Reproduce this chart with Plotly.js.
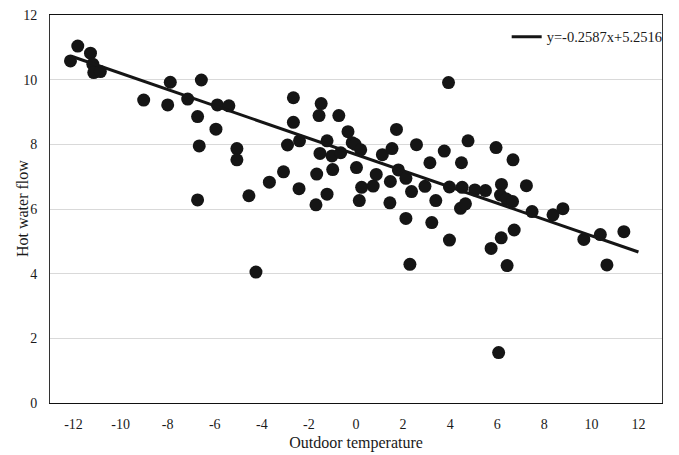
<!DOCTYPE html>
<html>
<head>
<meta charset="utf-8">
<script src="https://cdn.plot.ly/plotly-3.0.1.min.js"></script>
<style>html,body{margin:0;padding:0;background:#fff;}#chart{width:679px;height:455px;}</style>
</head>
<body>
<div id="chart"></div>
<script>
const temperature = [-12.13,-11.82,-11.28,-11.18,-11.14,-10.86,-9.02,-7.89,-8.00,-7.15,-6.57,-5.89,-5.40,-6.73,-5.95,-6.66,-5.06,-5.06,-6.73,-4.55,-4.25,-3.68,-3.08,-2.91,-2.66,-2.66,-2.40,-2.42,-1.48,-1.57,-0.73,-1.23,-1.53,-1.02,-0.65,-0.34,-0.16,-0.04,-0.99,-1.67,-1.23,-1.70,0.02,0.20,0.24,0.14,0.73,0.86,1.12,1.53,1.72,1.80,1.46,1.44,2.12,2.57,2.36,2.12,2.29,2.93,3.14,3.39,3.22,3.75,3.93,3.97,3.97,4.48,4.76,4.51,4.44,4.65,5.05,5.50,5.95,6.67,6.18,6.14,6.39,6.65,7.24,7.48,8.37,8.79,5.74,6.17,6.72,6.42,6.06,9.68,10.38,11.38,10.66];
const flow = [10.58,11.04,10.82,10.48,10.22,10.25,9.37,9.92,9.22,9.40,9.99,9.22,9.19,8.86,8.47,7.95,7.87,7.52,6.28,6.41,4.05,6.83,7.15,7.98,9.44,8.68,8.11,6.63,9.26,8.89,8.89,8.11,7.72,7.64,7.74,8.39,8.05,8.00,7.22,7.08,6.46,6.13,7.28,7.83,6.67,6.26,6.71,7.07,7.68,7.87,8.46,7.21,6.85,6.19,6.95,7.99,6.54,5.71,4.29,6.70,7.43,6.26,5.58,7.79,9.91,6.68,5.04,7.43,8.11,6.67,6.02,6.16,6.59,6.57,7.90,7.52,6.76,6.43,6.31,6.23,6.72,5.92,5.82,6.01,4.78,5.11,5.35,4.25,1.56,5.06,5.21,5.30,4.27];
const trendX = [-12, 12];
const trendY = [10.70, 4.67];
const trendLabel = 'y=-0.2587x+5.2516';
const xTicks = [-12,-10,-8,-6,-4,-2,0,2,4,6,8,10,12];
const yTicks = [0,2,4,6,8,10,12];
const xTitle = 'Outdoor temperature';
const yTitle = 'Hot water flow';

const FAM = '"Liberation Serif", "Times New Roman", serif';
const TXT = '#1a1a1a';

const data = [
  {x: temperature, y: flow, mode: 'markers', type: 'scatter', showlegend: false,
   marker: {color: '#151515', size: 13}},
  {x: trendX, y: trendY, mode: 'lines', type: 'scatter', name: trendLabel,
   line: {color: '#151515', width: 3}}
];

const layout = {
  width: 679, height: 455,
  margin: {l: 50, r: 16, t: 15, b: 52},
  paper_bgcolor: '#fff', plot_bgcolor: '#fff',
  font: {family: FAM, color: TXT, size: 14},
  showlegend: true,
  legend: {x: 0.745, y: 0.985, xanchor: 'left', yanchor: 'top', bgcolor: 'rgba(0,0,0,0)',
           font: {family: FAM, size: 14.5, color: TXT}},
  xaxis: {range: [-13, 13], tickvals: xTicks, ticktext: xTicks.map(String),
          showgrid: false, zeroline: false, showline: true, linecolor: '#111', linewidth: 1, mirror: true,
          ticks: '', ticklabelstandoff: 8, tickfont: {family: FAM, size: 14, color: TXT},
          title: {text: xTitle, font: {family: FAM, size: 16, color: TXT}, standoff: 6}},
  yaxis: {range: [0, 12], tickvals: yTicks, ticktext: yTicks.map(String),
          showgrid: true, gridcolor: '#d9d9d9', gridwidth: 1, zeroline: false,
          showline: true, linecolor: '#333', linewidth: 1, mirror: true,
          ticks: '', ticklabelstandoff: 9, tickfont: {family: FAM, size: 14, color: TXT}},
  annotations: [
    {text: yTitle, xref: 'paper', yref: 'paper', x: -0.0457, y: 0.5, xanchor: 'center', yanchor: 'middle',
     textangle: -90, showarrow: false, font: {family: FAM, size: 16, color: TXT}}
  ]
};

Plotly.newPlot('chart', data, layout, {displayModeBar: false, staticPlot: true});
</script>
</body>
</html>
